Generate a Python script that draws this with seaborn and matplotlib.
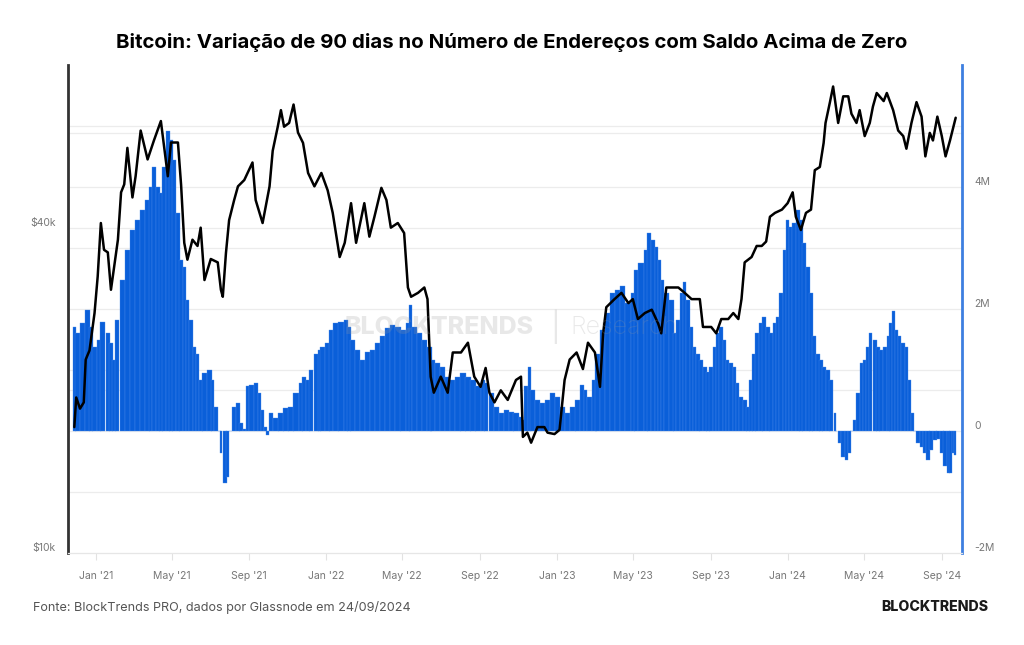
import numpy as np
import pandas as pd
import matplotlib
matplotlib.use("Agg")
import matplotlib.pyplot as plt
import matplotlib.dates as mdates
from matplotlib.ticker import FixedLocator
import seaborn as sns

# preço do BTC (USD)
price_dates = [
    "2020-11-28", "2020-12-01", "2020-12-07", "2020-12-13", "2020-12-16", "2020-12-22", "2020-12-30",
    "2021-01-04", "2021-01-09", "2021-01-14", "2021-01-20", "2021-01-25", "2021-01-30", "2021-02-05",
    "2021-02-10", "2021-02-15", "2021-02-20", "2021-02-28", "2021-03-05", "2021-03-13", "2021-03-24",
    "2021-04-03", "2021-04-14", "2021-04-25", "2021-04-30", "2021-05-11", "2021-05-16", "2021-05-21",
    "2021-05-26", "2021-06-03", "2021-06-11", "2021-06-16", "2021-06-22", "2021-07-02", "2021-07-13",
    "2021-07-18", "2021-07-21", "2021-07-26", "2021-07-31", "2021-08-08", "2021-08-14", "2021-08-24",
    "2021-09-06", "2021-09-11", "2021-09-22", "2021-10-03", "2021-10-08", "2021-10-16", "2021-10-21",
    "2021-10-26", "2021-11-03", "2021-11-10", "2021-11-17", "2021-11-25", "2021-12-03", "2021-12-13",
    "2021-12-24", "2022-01-03", "2022-01-11", "2022-01-22", "2022-01-30", "2022-02-09", "2022-02-17",
    "2022-03-02", "2022-03-10", "2022-03-18", "2022-03-29", "2022-04-06", "2022-04-13", "2022-04-24",
    "2022-05-04", "2022-05-10", "2022-05-15", "2022-05-26", "2022-06-05", "2022-06-10", "2022-06-15",
    "2022-06-20", "2022-07-01", "2022-07-12", "2022-07-20", "2022-08-02", "2022-08-13", "2022-08-18",
    "2022-08-23", "2022-09-02", "2022-09-10", "2022-09-16", "2022-09-24", "2022-10-04", "2022-10-15",
    "2022-10-28", "2022-11-05", "2022-11-08", "2022-11-15", "2022-11-21", "2022-12-01", "2022-12-12",
    "2022-12-17", "2022-12-28", "2023-01-05", "2023-01-13", "2023-01-21", "2023-02-01", "2023-02-11",
    "2023-02-19", "2023-03-02", "2023-03-10", "2023-03-15", "2023-03-20", "2023-04-02", "2023-04-13",
    "2023-04-24", "2023-05-01", "2023-05-09", "2023-05-20", "2023-05-31", "2023-06-10", "2023-06-15",
    "2023-06-23", "2023-07-12", "2023-07-22", "2023-08-02", "2023-08-15", "2023-08-20", "2023-09-02",
    "2023-09-10", "2023-09-18", "2023-09-29", "2023-10-07", "2023-10-15", "2023-10-20", "2023-10-25",
    "2023-11-05", "2023-11-13", "2023-11-21", "2023-11-28", "2023-12-04", "2023-12-12", "2023-12-23",
    "2024-01-01", "2024-01-09", "2024-01-14", "2024-01-22", "2024-01-30", "2024-02-07", "2024-02-13",
    "2024-02-21", "2024-02-27", "2024-03-01", "2024-03-08", "2024-03-13", "2024-03-21", "2024-03-29",
    "2024-04-06", "2024-04-11", "2024-04-19", "2024-04-24", "2024-05-02", "2024-05-10", "2024-05-15",
    "2024-05-21", "2024-06-01", "2024-06-06", "2024-06-16", "2024-06-24", "2024-07-02", "2024-07-07",
    "2024-07-15", "2024-07-23", "2024-07-31", "2024-08-06", "2024-08-13", "2024-08-18", "2024-08-25",
    "2024-09-01", "2024-09-07", "2024-09-14", "2024-09-23",
]
price_k = [
    17.1, 19.4, 18.5, 19.0, 22.8, 23.7, 27.8,
    32.5, 40.8, 36.4, 36.0, 30.7, 33.8, 38.0,
    46.5, 48.1, 56.2, 45.5, 49.8, 60.5, 53.5,
    58.0, 63.0, 49.8, 57.5, 57.5, 48.0, 37.5,
    34.9, 38.0, 37.0, 40.0, 32.0, 35.0, 34.5,
    30.7, 29.8, 35.9, 41.3, 45.0, 47.7, 49.0,
    52.8, 45.0, 40.8, 47.7, 55.5, 61.5, 66.0,
    61.5, 62.5, 67.6, 60.0, 57.4, 50.5, 47.7,
    50.5, 46.9, 42.6, 35.3, 37.5, 44.4, 37.5,
    44.4, 38.5, 41.9, 47.4, 45.0, 40.0, 40.8,
    39.1, 31.0, 29.8, 30.3, 31.0, 29.5, 21.2,
    19.8, 21.2, 19.8, 23.5, 23.5, 24.5, 22.8,
    21.2, 20.3, 22.0, 19.8, 19.0, 20.0, 19.2,
    20.9, 21.2, 16.4, 16.7, 16.0, 17.1, 17.1,
    16.7, 16.6, 16.9, 20.9, 22.8, 23.5, 21.9,
    24.5, 23.5, 20.3, 25.5, 28.5, 29.5, 30.3,
    29.0, 29.5, 27.1, 27.8, 28.2, 26.6, 25.5,
    31.0, 31.0, 30.3, 29.5, 29.5, 26.2, 26.2,
    25.5, 27.1, 27.1, 27.8, 27.1, 29.5, 34.5,
    35.3, 37.0, 37.0, 37.7, 41.9, 42.6, 43.2,
    44.4, 46.5, 41.9, 39.6, 42.6, 43.2, 51.1,
    51.8, 57.4, 62.5, 68.3, 73.0, 62.5, 70.0,
    70.0, 65.0, 62.5, 66.0, 59.1, 62.5, 67.0,
    71.0, 68.6, 71.0, 66.0, 60.5, 59.1, 56.0,
    62.5, 68.3, 64.2, 54.2, 59.9, 58.0, 64.2,
    59.1, 54.2, 58.0, 63.9,
]

# variação de 90 dias no número de endereços (milhões)
addr_dates = [
    "2020-11-28", "2020-12-03", "2020-12-11", "2020-12-19", "2020-12-24", "2020-12-30", "2021-01-06",
    "2021-01-12", "2021-01-20", "2021-01-25", "2021-01-30", "2021-02-04", "2021-02-12", "2021-02-20",
    "2021-02-28", "2021-03-08", "2021-03-16", "2021-03-24", "2021-03-29", "2021-04-03", "2021-04-09",
    "2021-04-14", "2021-04-19", "2021-04-25", "2021-04-30", "2021-05-05", "2021-05-11", "2021-05-16",
    "2021-05-21", "2021-05-26", "2021-06-01", "2021-06-06", "2021-06-11", "2021-06-16", "2021-06-22",
    "2021-06-30", "2021-07-05", "2021-07-10", "2021-07-16", "2021-07-18", "2021-07-24", "2021-07-29",
    "2021-08-02", "2021-08-08", "2021-08-14", "2021-08-19", "2021-08-24", "2021-08-29", "2021-09-04",
    "2021-09-12", "2021-09-17", "2021-09-22", "2021-09-27", "2021-09-30", "2021-10-05", "2021-10-13",
    "2021-10-21", "2021-10-29", "2021-11-06", "2021-11-14", "2021-11-22", "2021-11-27", "2021-12-03",
    "2021-12-08", "2021-12-16", "2021-12-21", "2021-12-26", "2022-01-03", "2022-01-08", "2022-01-16",
    "2022-01-24", "2022-02-01", "2022-02-06", "2022-02-11", "2022-02-19", "2022-02-27", "2022-03-07",
    "2022-03-15", "2022-03-23", "2022-03-31", "2022-04-08", "2022-04-16", "2022-04-24", "2022-05-02",
    "2022-05-10", "2022-05-14", "2022-05-20", "2022-05-28", "2022-06-05", "2022-06-13", "2022-06-18",
    "2022-06-26", "2022-07-04", "2022-07-12", "2022-07-20", "2022-07-28", "2022-08-05", "2022-08-13",
    "2022-08-21", "2022-08-29", "2022-09-06", "2022-09-11", "2022-09-19", "2022-09-27", "2022-10-05",
    "2022-10-13", "2022-10-21", "2022-10-28", "2022-11-05", "2022-11-08", "2022-11-13", "2022-11-18",
    "2022-11-23", "2022-12-01", "2022-12-09", "2022-12-17", "2022-12-25", "2023-01-02", "2023-01-10",
    "2023-01-18", "2023-01-26", "2023-02-03", "2023-02-10", "2023-02-15", "2023-02-21", "2023-03-01",
    "2023-03-06", "2023-03-14", "2023-03-22", "2023-03-30", "2023-04-07", "2023-04-15", "2023-04-23",
    "2023-05-01", "2023-05-06", "2023-05-14", "2023-05-22", "2023-05-27", "2023-06-02", "2023-06-07",
    "2023-06-12", "2023-06-17", "2023-06-23", "2023-07-01", "2023-07-06", "2023-07-12", "2023-07-17",
    "2023-07-22", "2023-07-27", "2023-08-02", "2023-08-07", "2023-08-12", "2023-08-17", "2023-08-23",
    "2023-08-28", "2023-09-02", "2023-09-07", "2023-09-12", "2023-09-18", "2023-09-23", "2023-09-28",
    "2023-10-03", "2023-10-09", "2023-10-14", "2023-10-19", "2023-10-25", "2023-10-30", "2023-11-04",
    "2023-11-09", "2023-11-14", "2023-11-20", "2023-11-25", "2023-12-01", "2023-12-06", "2023-12-11",
    "2023-12-16", "2023-12-22", "2023-12-27", "2024-01-01", "2024-01-06", "2024-01-11", "2024-01-17",
    "2024-01-22", "2024-01-27", "2024-02-02", "2024-02-07", "2024-02-12", "2024-02-18", "2024-02-23",
    "2024-02-28", "2024-03-05", "2024-03-10", "2024-03-16", "2024-03-18", "2024-03-23", "2024-03-29",
    "2024-04-03", "2024-04-08", "2024-04-11", "2024-04-16", "2024-04-21", "2024-04-27", "2024-05-02",
    "2024-05-07", "2024-05-11", "2024-05-18", "2024-05-23", "2024-05-28", "2024-06-03", "2024-06-08",
    "2024-06-12", "2024-06-16", "2024-06-21", "2024-06-26", "2024-07-02", "2024-07-07", "2024-07-12",
    "2024-07-17", "2024-07-20", "2024-07-25", "2024-07-31", "2024-08-05", "2024-08-10", "2024-08-15",
    "2024-08-21", "2024-08-26", "2024-09-01", "2024-09-06", "2024-09-11", "2024-09-15", "2024-09-19",
    "2024-09-22",
]
addr_change_m = [
    1.71, 1.60, 1.77, 1.98, 1.71, 1.38, 1.49,
    1.79, 1.60, 1.44, 1.17, 1.82, 2.48, 2.97,
    3.30, 3.46, 3.62, 3.79, 4.00, 4.33, 4.00,
    3.90, 4.33, 4.91, 4.77, 4.44, 3.57, 2.80,
    2.69, 2.15, 1.82, 1.38, 1.27, 0.84, 0.95,
    1.00, 0.84, 0.40, 0.00, -0.36, -0.85, -0.75,
    0.00, 0.40, 0.46, 0.13, 0.03, 0.73, 0.75,
    0.79, 0.62, 0.34, 0.07, -0.06, 0.29, 0.21,
    0.29, 0.37, 0.40, 0.62, 0.79, 0.89, 0.84,
    1.00, 1.27, 1.33, 1.38, 1.44, 1.66, 1.77,
    1.79, 1.82, 1.71, 1.49, 1.33, 1.16, 1.30,
    1.33, 1.44, 1.55, 1.69, 1.74, 1.71, 1.66,
    1.77, 2.07, 1.71, 1.60, 1.49, 1.38, 1.16,
    1.11, 1.05, 0.89, 0.84, 0.89, 0.95, 0.89,
    0.84, 0.73, 0.84, 0.79, 0.62, 0.40, 0.29,
    0.34, 0.31, 0.29, 0.23, 0.18, 0.73, 1.05,
    0.67, 0.51, 0.46, 0.51, 0.62, 0.56, 0.40,
    0.29, 0.40, 0.51, 0.75, 0.67, 0.56, 0.84,
    1.27, 1.66, 1.93, 2.26, 2.31, 2.37, 2.10,
    2.26, 2.64, 2.75, 2.97, 3.25, 3.13, 3.02,
    2.80, 2.48, 2.26, 2.15, 1.60, 1.82, 2.26,
    2.45, 2.15, 1.71, 1.38, 1.27, 1.16, 1.05,
    0.97, 1.05, 1.38, 1.60, 1.71, 1.49, 1.16,
    1.11, 1.05, 0.79, 0.56, 0.51, 0.40, 0.84,
    1.27, 1.60, 1.77, 1.87, 1.71, 1.60, 1.77,
    1.87, 2.26, 2.97, 3.46, 3.35, 3.41, 3.62,
    3.46, 3.08, 2.69, 2.26, 1.55, 1.27, 1.16,
    1.05, 1.00, 0.84, 0.29, 0.00, -0.19, -0.42,
    -0.48, -0.36, 0.00, 0.18, 0.62, 1.11, 1.16,
    1.38, 1.60, 1.49, 1.38, 1.33, 1.38, 1.55,
    1.77, 1.96, 1.66, 1.55, 1.44, 1.38, 0.84,
    0.29, 0.00, -0.19, -0.26, -0.36, -0.48, -0.31,
    -0.15, -0.13, -0.36, -0.58, -0.69, -0.69, -0.36,
    -0.40,
]

right_ticks = [-2e6, 0, 2e6, 4e6]
right_labels = ["-2M", "0", "2M", "4M"]
left_ticks = [10000, 40000]
left_labels = ["$10k", "$40k"]
price_grid = [20000, 40000, 60000]
price_lim = (10000, 80000)

df_price = pd.DataFrame({"data": pd.to_datetime(price_dates), "preco": np.array(price_k) * 1000})
df_addr = pd.DataFrame({"data": pd.to_datetime(addr_dates), "variacao": np.array(addr_change_m) * 1e6})

sns.set_theme(style="white")
plt.rcParams["font.family"] = ["Inter", "DejaVu Sans"]

W, H = 1024, 645
fig = plt.figure(figsize=(W / 100, H / 100), dpi=100)
ax = fig.add_axes([68 / W, (H - 553) / H, (962 - 68) / W, (553 - 65) / H])

grid_c = "#ececec"
# linhas de grade (todas no eixo de baixo, atrás das barras)
for v in np.arange(-1e6, 6e6, 1e6):
    ax.axhline(v, color=grid_c, lw=0.9, zorder=0)
lo, hi = np.log10(price_lim)
for v in price_grid:
    f = (np.log10(v) - lo) / (hi - lo)
    ax.plot([0, 1], [f, f], transform=ax.transAxes, color=grid_c, lw=0.9, zorder=0)

# barras: eixo principal (ticks à direita)
days = mdates.date2num(df_addr["data"])
widths = np.gradient(days) * 1.08
ax.bar(df_addr["data"], df_addr["variacao"], width=widths, color="#0a5fd9",
       edgecolor="#4a8deb", linewidth=0.25, zorder=2)
ax.set_ylim(-2e6, 6e6)
ax.yaxis.set_major_locator(FixedLocator(right_ticks))
ax.set_yticklabels(right_labels)

# preço: eixo secundário log (ticks à esquerda)
ax2 = ax.twinx()
sns.lineplot(data=df_price, x="data", y="preco", ax=ax2, color="black", lw=1.8, zorder=3)
ax2.set_yscale("log")
ax2.set_ylim(*price_lim)
ax2.yaxis.set_major_locator(FixedLocator(left_ticks))
ax2.yaxis.set_minor_locator(FixedLocator([]))
ax2.set_yticklabels(left_labels)
ax2.yaxis.tick_left()
ax.yaxis.tick_right()
ax2.set_xlabel("")
ax2.set_ylabel("")
ax.set_xlabel("")
ax.set_ylabel("")

ax.set_xlim(pd.Timestamp("2020-11-18"), pd.Timestamp("2024-10-03"))
ax.xaxis.set_major_locator(mdates.MonthLocator(bymonth=[1, 5, 9]))
ax.xaxis.set_major_formatter(mdates.DateFormatter("%b '%y"))

ax.tick_params(axis="x", length=5, width=0.8, color="#e2e2e2", labelsize=7.5,
               labelcolor="#777777", pad=8, bottom=True)
ax.tick_params(axis="y", length=0, labelsize=7.5, labelcolor="#777777", pad=9)
ax2.tick_params(axis="y", length=0, labelsize=7.5, labelcolor="#777777", pad=9)
for lbl in ax.get_yticklabels() + ax2.get_yticklabels():
    lbl.set_verticalalignment("bottom")

for s in ax2.spines.values():
    s.set_visible(False)
ax.spines["top"].set_visible(False)
ax.spines["bottom"].set_color("#e6e6e6")
ax.spines["bottom"].set_linewidth(0.9)
ax.spines["left"].set_color("#333333")
ax.spines["left"].set_linewidth(2)
ax.spines["right"].set_color("#3d7fe0")
ax.spines["right"].set_linewidth(2)

# marca d'água
fig.text(439 / W, 1 - 327 / H, "BLOCKTRENDS", fontsize=18, weight="heavy",
         color="#9a9a9a", alpha=0.22, ha="center", va="center", zorder=10)
fig.text(555 / W, 1 - 327 / H, "|", fontsize=21, color="#9a9a9a", alpha=0.22,
         ha="center", va="center", zorder=10)
fig.text(570 / W, 1 - 327 / H, "Research", fontsize=18, weight="light",
         color="#9a9a9a", alpha=0.22, ha="left", va="center", zorder=10)

fig.text(0.5, 1 - 43 / H, "Bitcoin: Variação de 90 dias no Número de Endereços com Saldo Acima de Zero",
         ha="center", va="center", fontsize=14.7, weight="bold", color="black")
fig.text(33 / W, 1 - 607 / H, "Fonte: BlockTrends PRO, dados por Glassnode em 24/09/2024",
         ha="left", va="center", fontsize=9.1, color="#555555")
fig.text(988 / W, 1 - 607 / H, "BLOCKTRENDS", ha="right", va="center", fontsize=10.2,
         weight="heavy", color="#1a1a1a")

fig.savefig("out.png", dpi=100)
